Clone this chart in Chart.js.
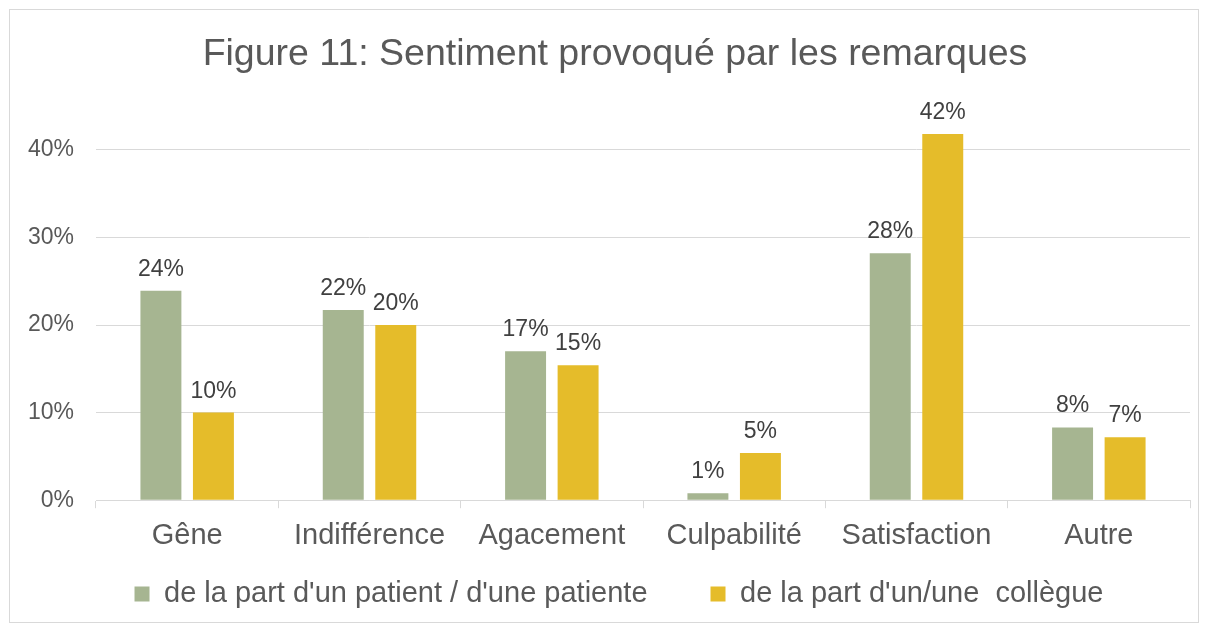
<!DOCTYPE html>
<html>
<head>
<meta charset="utf-8">
<script src="https://cdn.jsdelivr.net/npm/chart.js@4/dist/chart.umd.min.js"></script>
<style>
  html, body { margin: 0; padding: 0; background: #fff; }
  #frame { position: absolute; left: 9px; top: 9px; width: 1190px; height: 614px; border: 1px solid #d9d9d9; box-sizing: border-box; }
  #wrap { position: absolute; left: 0; top: 0; width: 1209px; height: 624px; }
</style>
</head>
<body>
<div id="frame"></div>
<div id="wrap"><canvas id="sentiment_chart" width="1209" height="624"></canvas></div>
<script>
labels = ['Gêne', 'Indifférence', 'Agacement', 'Culpabilité', 'Satisfaction', 'Autre']
patient = [0.239, 0.217, 0.170, 0.008, 0.282, 0.083]
collegue = [0.100, 0.200, 0.154, 0.054, 0.418, 0.072]
yTicks = [0, 0.1, 0.2, 0.3, 0.4]

FONT = "'Liberation Sans', Arial, sans-serif"
LEGEND_PAD = 63

// value labels above each bar
barLabels = {
    id: 'barLabels',
    afterDatasetsDraw(chart) {
        const ctx = chart.ctx;
        ctx.save();
        ctx.font = '23px ' + FONT;
        ctx.fillStyle = '#404040';
        ctx.textAlign = 'center';
        ctx.textBaseline = 'alphabetic';
        chart.data.datasets.forEach((ds, i) => {
            chart.getDatasetMeta(i).data.forEach((bar, j) => {
                ctx.fillText(Math.round(ds.data[j] * 100) + '%', bar.x, bar.y - 15);
            });
        });
        ctx.restore();
    }
};

// nudge title + legend like the excel layout (legend padding is wide horizontally only)
nudge = {
    id: 'nudge',
    afterLayout(chart) {
        const lg = chart.legend;
        lg.top = 594 - 14.5 - LEGEND_PAD;
        lg.bottom = chart.height;
        lg.height = lg.bottom - lg.top;
        lg.left += 19; lg.right += 19;
        const t = chart.titleBlock;
        t.left += 15; t.right += 15;
    }
};

data = [
    {
    label: "de la part d'un patient / d'une patiente",
    data: patient,
    backgroundColor: '#a6b591',
    },
    {
    label: "de la part d'un/une  collègue",
    data: collegue,
    backgroundColor: '#e5bc2a',
    },
]

config = {
    type: 'bar',
    data: {
        datasets: data,
        labels
    },
    options: {
        responsive: false,
        animation: false,
        categoryPercentage: 0.576,
        barPercentage: 0.78,
        layout: { padding: { left: 10, right: 19, top: 32, bottom: 1 } },
        plugins: {
            title: {
                display: true,
                text: 'Figure 11: Sentiment provoqué par les remarques',
                color: '#595959',
                font: { family: FONT, size: 37.5, weight: 'normal' },
                padding: { top: 0, bottom: 29 }
            },
            legend: {
                position: 'bottom',
                maxHeight: 60,
                labels: {
                    color: '#595959',
                    font: { family: FONT, size: 29 },
                    boxWidth: 15,
                    boxHeight: 15,
                    padding: LEGEND_PAD
                }
            },
            tooltip: { enabled: false }
        },
        scales: {
            x: {
                grid: { display: true, drawOnChartArea: false, drawTicks: true, tickLength: 8, color: '#d9d9d9' },
                border: { display: true, color: '#d9d9d9' },
                ticks: { color: '#595959', font: { family: FONT, size: 29 }, padding: 10, maxRotation: 0 }
            },
            y: {
                min: 0,
                max: 0.45,
                grid: { color: '#d9d9d9', drawTicks: false },
                border: { display: false },
                afterBuildTicks(scale) { scale.ticks = yTicks.map(v => ({ value: v })); },
                ticks: {
                    color: '#595959',
                    font: { family: FONT, size: 23 },
                    padding: 22,
                    callback: v => Math.round(v * 100) + '%'
                },
                afterFit(scale) { scale.width = 86; }
            }
        }
    },
    plugins: [barLabels, nudge]
};

ctx = document.getElementById("sentiment_chart");
new Chart(ctx, config);
</script>
</body>
</html>
